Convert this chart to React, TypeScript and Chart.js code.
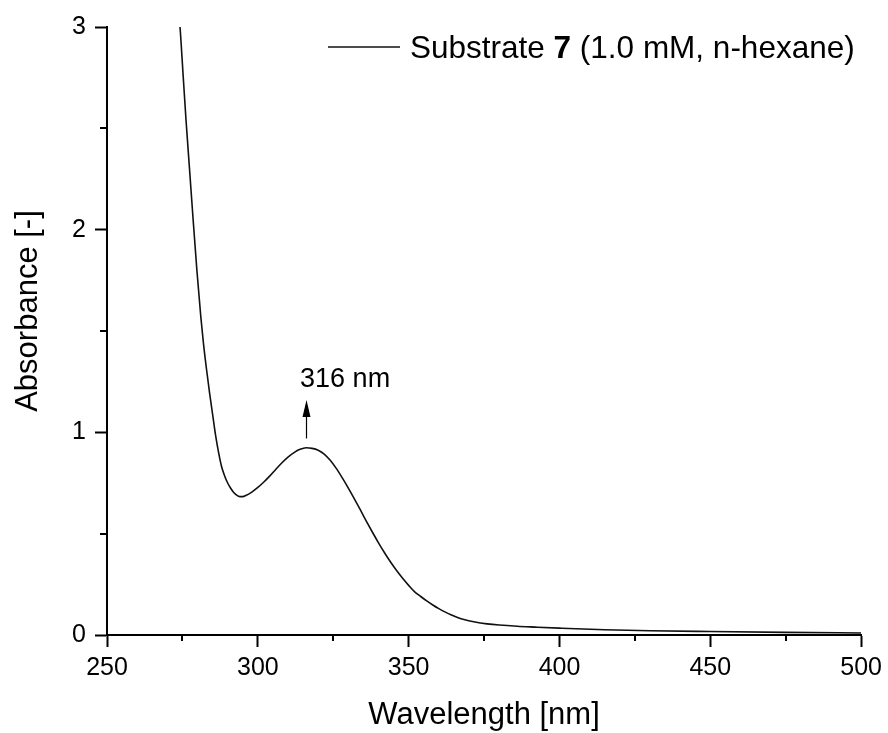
import React, { useEffect, useRef } from 'react';
import { Chart, registerables } from 'chart.js';

Chart.register(...registerables);

// ---- Data ----
const wavelengths = [
  273.5, 274.2, 275.2, 276.2, 277.4, 278.5, 279.8, 281.1, 282, 283, 284, 285, 286, 287, 288, 289,
  290, 291, 292, 293, 294, 295, 296, 298, 300, 302, 304, 306, 308, 310, 312, 314, 316, 318, 320,
  322, 324, 326, 328, 330, 332, 334, 336, 338, 340, 342, 344, 346, 348, 350, 352, 354, 356, 358,
  360, 362, 364, 366, 368, 372, 376, 380, 386, 392, 400, 415, 430, 450, 475, 500,
];
const absorbance = [
  3.1, 3.0, 2.77, 2.54, 2.29, 2.06, 1.8, 1.57, 1.435, 1.31, 1.195, 1.09, 0.985, 0.9, 0.83, 0.785,
  0.75, 0.724, 0.703, 0.69, 0.683, 0.683, 0.688, 0.705, 0.728, 0.755, 0.785, 0.818, 0.85, 0.878,
  0.9, 0.916, 0.924, 0.921, 0.912, 0.893, 0.862, 0.822, 0.775, 0.725, 0.672, 0.617, 0.561, 0.507,
  0.455, 0.406, 0.36, 0.318, 0.28, 0.245, 0.213, 0.19, 0.168, 0.148, 0.13, 0.114, 0.1, 0.088,
  0.078, 0.064, 0.055, 0.049, 0.043, 0.039, 0.034, 0.026, 0.021, 0.017, 0.013, 0.01,
];

const xMin = 250;
const xMax = 500;
const xMajorStep = 50;
const xMinorTicks = [275, 325, 375, 425, 475];
const yMin = 0;
const yMax = 3;
const yMajorStep = 1;
const yMinorTicks = [0.5, 1.5, 2.5];

const xTitle = 'Wavelength [nm]';
const yTitle = 'Absorbance [-]';
const legendParts = [
  { text: 'Substrate ', bold: false },
  { text: '7', bold: true },
  { text: ' (1.0 mM, n-hexane)', bold: false },
];
const peakLabel = '316 nm';
const peakNm = 316;
const arrowTail = 0.97;
const arrowTip = 1.16;
const peakLabelAnchor = { x: 314, y: 1.225 };

const FONT = '"Liberation Sans", Arial, Helvetica, sans-serif';

const decorPlugin = {
  id: 'decor',
  afterDraw(chart: any) {
    const { ctx, chartArea, scales } = chart;
    const x = scales.x;
    const y = scales.y;
    ctx.save();
    ctx.strokeStyle = '#000';
    ctx.fillStyle = '#000';
    ctx.lineWidth = 2;

    // minor ticks
    xMinorTicks.forEach((v) => {
      const px = Math.round(x.getPixelForValue(v));
      ctx.beginPath();
      ctx.moveTo(px, chartArea.bottom);
      ctx.lineTo(px, chartArea.bottom + 6);
      ctx.stroke();
    });
    yMinorTicks.forEach((v) => {
      const py = Math.round(y.getPixelForValue(v));
      ctx.beginPath();
      ctx.moveTo(chartArea.left, py);
      ctx.lineTo(chartArea.left - 7, py);
      ctx.stroke();
    });

    // axis titles
    ctx.font = `31px ${FONT}`;
    ctx.textAlign = 'center';
    ctx.textBaseline = 'alphabetic';
    ctx.fillText(xTitle, (chartArea.left + chartArea.right) / 2, 724);
    ctx.save();
    ctx.translate(37, 311);
    ctx.rotate(-Math.PI / 2);
    ctx.fillText(yTitle, 0, 0);
    ctx.restore();

    // peak annotation arrow
    const ax = Math.round(x.getPixelForValue(peakNm)) + 0.5;
    const tailY = y.getPixelForValue(arrowTail);
    const tipY = y.getPixelForValue(arrowTip);
    ctx.lineWidth = 1.2;
    ctx.beginPath();
    ctx.moveTo(ax, tailY);
    ctx.lineTo(ax, tipY + 14);
    ctx.stroke();
    ctx.beginPath();
    ctx.moveTo(ax, tipY);
    ctx.lineTo(ax - 4, tipY + 17);
    ctx.lineTo(ax + 4, tipY + 17);
    ctx.closePath();
    ctx.fill();

    ctx.font = `27px ${FONT}`;
    ctx.textAlign = 'left';
    ctx.fillText(peakLabel, x.getPixelForValue(peakLabelAnchor.x), y.getPixelForValue(peakLabelAnchor.y));

    // legend
    const legY = 47;
    ctx.lineWidth = 1.6;
    ctx.strokeStyle = '#111';
    ctx.beginPath();
    ctx.moveTo(328, legY);
    ctx.lineTo(400, legY);
    ctx.stroke();
    let tx = 410;
    legendParts.forEach((p) => {
      ctx.font = `${p.bold ? 'bold ' : ''}31.5px ${FONT}`;
      ctx.fillText(p.text, tx, legY + 11);
      tx += ctx.measureText(p.text).width;
    });
    ctx.restore();
  },
};

export default function App() {
  const canvasRef = useRef<HTMLCanvasElement | null>(null);

  useEffect(() => {
    const canvas = canvasRef.current;
    if (!canvas) return;
    const points = wavelengths.map((w, i) => ({ x: w, y: absorbance[i] }));
    const chart = new Chart(canvas, {
      type: 'line',
      data: {
        datasets: [
          {
            label: 'Substrate 7 (1.0 mM, n-hexane)',
            data: points,
            borderColor: '#111',
            borderWidth: 1.6,
            pointRadius: 0,
            fill: false,
            cubicInterpolationMode: 'monotone',
          },
        ],
      },
      options: {
        animation: false,
        responsive: false,
        maintainAspectRatio: false,
        layout: { padding: { top: 27, right: 26, left: 0, bottom: 0 } },
        plugins: {
          legend: { display: false },
          tooltip: { enabled: false },
        },
        scales: {
          x: {
            type: 'linear',
            min: xMin,
            max: xMax,
            afterFit: (s: any) => {
              s.height = 98;
            },
            ticks: {
              stepSize: xMajorStep,
              color: '#000',
              padding: 6,
              font: { size: 25, family: FONT },
              maxRotation: 0,
            },
            grid: {
              drawOnChartArea: false,
              drawTicks: true,
              tickLength: 12,
              tickWidth: 2,
              tickColor: '#000',
            },
            border: { display: true, color: '#000', width: 2 },
          },
          y: {
            type: 'linear',
            min: yMin,
            max: yMax,
            afterFit: (s: any) => {
              s.width = 107;
            },
            ticks: {
              stepSize: yMajorStep,
              color: '#000',
              padding: 9,
              font: { size: 25, family: FONT },
            },
            grid: {
              drawOnChartArea: false,
              drawTicks: true,
              tickLength: 12,
              tickWidth: 2,
              tickColor: '#000',
            },
            border: { display: true, color: '#000', width: 2 },
          },
        },
      },
      plugins: [decorPlugin],
    });
    return () => chart.destroy();
  }, []);

  return (
    <div style={{ position: 'absolute', left: 0, top: 0, width: 888, height: 733, background: '#fff' }}>
      <canvas ref={canvasRef} width={888} height={733} style={{ display: 'block' }} />
    </div>
  );
}
